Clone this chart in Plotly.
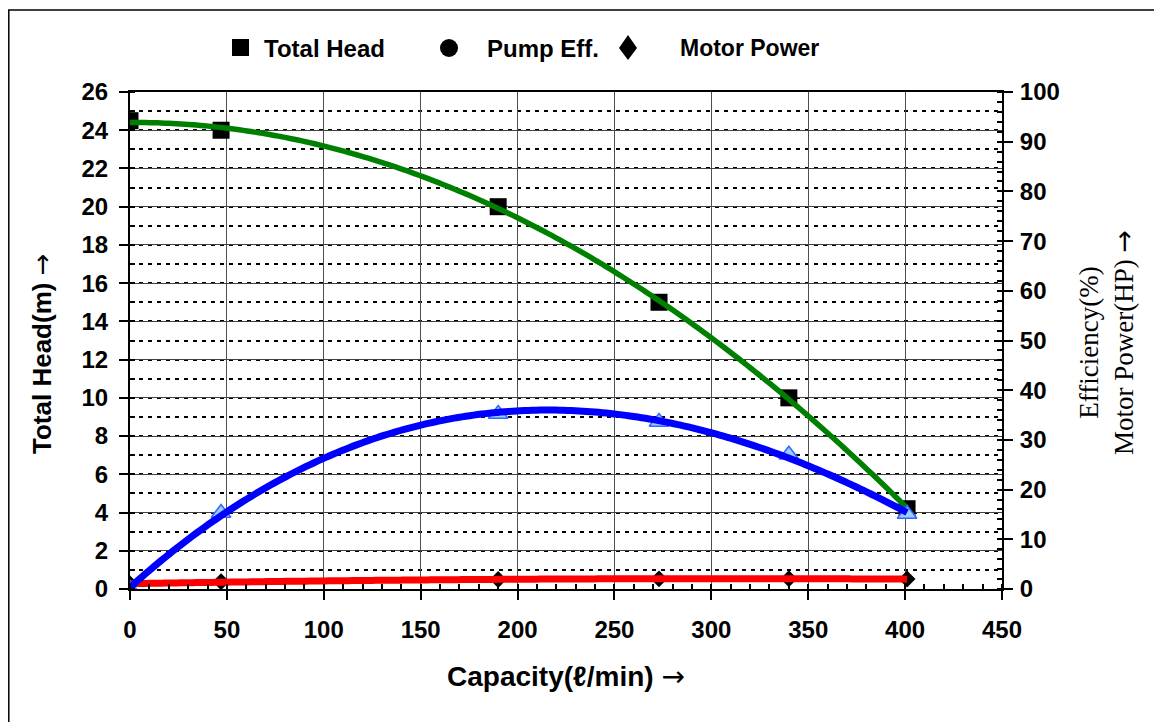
import numpy as np
import plotly.graph_objects as go

# ---- data ----
capacity = [0, 47, 190, 273, 340, 401]              # l/min
total_head = [24.5, 24.0, 20.0, 15.0, 10.0, 4.2]    # m (left axis)
pump_eff = [0.0, 15.3, 35.2, 33.6, 27.0, 15.1]      # % (right axis)
motor_power = [0.26, 0.38, 0.50, 0.53, 0.54, 0.52]  # HP (left axis scale)

x_range = [0, 450]
y_range = [0, 26]
y2_range = [0, 100]

legend_names = ["Total Head", "Pump Eff.", "Motor Power"]

# ---- layout geometry ----
# the page body has an 8px margin, so the figure is drawn 8px smaller and
# page pixel positions are converted to paper coordinates of the plot area.
OFF = 8
W, H = 1162 - OFF, 722 - OFF
L, R, T, B = 130, 1002, 92, 589      # plot area in page pixels


def px(x):
    return (x - L) / (R - L)


def py(y):
    return (B - y) / (B - T)


# polynomial trendlines (as in the spreadsheet chart)
xs = np.linspace(min(capacity), max(capacity), 200)
head_fit = np.polyval(np.polyfit(capacity, total_head, 2), xs)
eff_fit = np.polyval(np.polyfit(capacity, pump_eff, 3), xs)
power_fit = np.polyval(np.polyfit(capacity, motor_power, 2), xs)

fig = go.Figure()

fig.add_trace(go.Scatter(x=capacity, y=total_head, mode="markers",
                         marker=dict(symbol="square", size=17, color="black"),
                         showlegend=False))
fig.add_trace(go.Scatter(x=capacity, y=motor_power, mode="markers",
                         marker=dict(symbol="diamond", size=13, color="black"),
                         showlegend=False))
fig.add_trace(go.Scatter(x=xs, y=head_fit, mode="lines",
                         line=dict(color="#008000", width=5.5, simplify=False),
                         showlegend=False))
fig.add_trace(go.Scatter(x=xs, y=power_fit, mode="lines",
                         line=dict(color="#FF0000", width=7, simplify=False),
                         showlegend=False))
fig.add_trace(go.Scatter(x=capacity, y=pump_eff, mode="markers", yaxis="y2",
                         marker=dict(symbol="triangle-up", size=17, color="#99CCFF",
                                     line=dict(color="#3366FF", width=1.5)),
                         showlegend=False))
fig.add_trace(go.Scatter(x=xs, y=eff_fit, mode="lines", yaxis="y2",
                         line=dict(color="#0000FF", width=7, simplify=False),
                         showlegend=False))

tickfont = dict(family="Liberation Sans, Arial", size=24, color="black", weight="bold")

fig.update_layout(
    width=W, height=H,
    margin=dict(l=L - OFF, r=W - (R - OFF), t=T - OFF, b=H - (B - OFF)),
    paper_bgcolor="white", plot_bgcolor="white",
    showlegend=False,
    xaxis=dict(range=x_range, dtick=50, tick0=0, showline=True, linewidth=2,
               linecolor="black", mirror=True, ticks="outside", ticklen=9,
               tickwidth=2, tickcolor="black", tickfont=tickfont,
               ticklabelstandoff=9,
               showgrid=True, gridcolor="#505050", gridwidth=1, zeroline=False,
               minor=dict(dtick=10, ticks="inside", ticklen=5, tickwidth=1.5,
                          tickcolor="black", showgrid=False)),
    yaxis=dict(range=y_range, dtick=2, tick0=0, showline=True, linewidth=2,
               linecolor="black", ticks="outside", ticklen=9, tickwidth=2,
               tickcolor="black", tickfont=tickfont, ticklabelstandoff=6,
               showgrid=True, gridcolor="#404040", gridwidth=1, zeroline=False,
               minor=dict(dtick=1, ticks="inside", ticklen=5, tickwidth=1.5,
                          tickcolor="black", showgrid=True, gridcolor="black",
                          gridwidth=2, griddash="4px,5px")),
    yaxis2=dict(range=y2_range, dtick=10, tick0=0, overlaying="y", side="right",
                showline=True, linewidth=2, linecolor="black", ticks="outside",
                ticklen=9, tickwidth=2, tickcolor="black", tickfont=tickfont,
                ticklabelstandoff=2, showgrid=False, zeroline=False,
                minor=dict(dtick=2, ticks="inside", ticklen=5, tickwidth=1.5,
                           tickcolor="black")),
)

ARROW = '<span style="font-family:DejaVu Sans;font-weight:normal">→</span>'

annotations = []
# axis titles
annotations.append(dict(text="<b>Capacity(ℓ/min) </b>" + ARROW, x=px(566), y=py(676),
                        xref="paper", yref="paper", xanchor="center", yanchor="middle",
                        showarrow=False,
                        font=dict(family="Liberation Sans, Arial", size=28, color="black")))
annotations.append(dict(text="<b>Total Head(m) </b>" + ARROW, x=px(42), y=py(354),
                        xref="paper", yref="paper", xanchor="center", yanchor="middle",
                        textangle=-90, showarrow=False,
                        font=dict(family="Liberation Sans, Arial", size=26, color="black")))
annotations.append(dict(text="Efficiency(%)<br>Motor Power(HP) " + ARROW,
                        x=px(1106), y=py(343),
                        xref="paper", yref="paper", xanchor="center", yanchor="middle",
                        textangle=-90, showarrow=False,
                        font=dict(family="Liberation Serif, Times New Roman", size=27,
                                  color="black")))
# legend texts
leg_x = [262, 485, 678]
leg_sizes = [24, 24, 23]
for name, lx, fs in zip(legend_names, leg_x, leg_sizes):
    annotations.append(dict(text="<b>%s</b>" % name, x=px(lx), y=py(48),
                            xref="paper", yref="paper", xanchor="left", yanchor="middle",
                            showarrow=False,
                            font=dict(family="Liberation Sans, Arial", size=fs,
                                      color="black")))
fig.update_layout(annotations=annotations)

shapes = []
# legend symbols
shapes.append(dict(type="rect", xref="paper", yref="paper",
                   x0=px(232), x1=px(249), y0=py(39), y1=py(56),
                   fillcolor="black", line=dict(width=0)))
shapes.append(dict(type="circle", xref="paper", yref="paper",
                   x0=px(440), x1=px(458), y0=py(39), y1=py(57),
                   fillcolor="black", line=dict(width=0)))
shapes.append(dict(type="path", xref="paper", yref="paper",
                   path="M %f %f L %f %f L %f %f L %f %f Z" % (
                       px(628), py(35), px(637), py(48), px(628), py(60), px(619), py(48)),
                   fillcolor="black", line=dict(width=0)))
# outer frame (left and top edges visible)
shapes.append(dict(type="line", xref="paper", yref="paper",
                   x0=px(8.8), x1=px(8.8), y0=py(10), y1=py(740),
                   line=dict(color="black", width=1.5)))
shapes.append(dict(type="line", xref="paper", yref="paper",
                   x0=px(8), x1=px(1180), y0=py(10), y1=py(10),
                   line=dict(color="black", width=1.5)))
fig.update_layout(shapes=shapes)

fig.write_html("out.html")
